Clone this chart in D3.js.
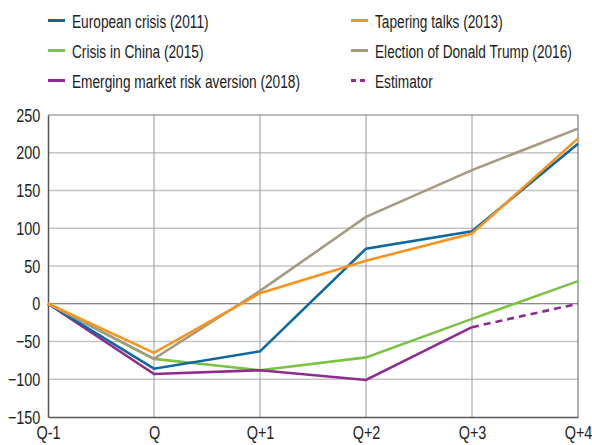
<!DOCTYPE html>
<html><head><meta charset="utf-8">
<script src="https://cdn.jsdelivr.net/npm/d3@7"></script>
<style>
body{margin:0;background:#fff;}
text{font-family:"Liberation Sans",Arial,sans-serif;fill:#222;}
</style></head>
<body><svg id="c" width="592" height="445"></svg>
<script>
const categories = ["Q-1","Q","Q+1","Q+2","Q+3","Q+4"];
const yTicks = [-150,-100,-50,0,50,100,150,200,250];
const europeanCrisis = [0,-86,-63,73,96,212];
const taperingTalks = [0,-65,14,57,93,219];
const chinaCrisis = [0,-73,-88,-71,-20,30];
const trumpElection = [0,-73,17,115,177,232];
const emRiskAversion = [0,-93,-88,-101,-31,null];
const estimator = [null,null,null,null,-31,0];

const series = [
  {name:"European crisis (2011)", values:europeanCrisis, color:"#0b68a0", dash:null, col:0, row:0},
  {name:"Tapering talks (2013)", values:taperingTalks, color:"#f7941d", dash:null, col:1, row:0},
  {name:"Crisis in China (2015)", values:chinaCrisis, color:"#7dc242", dash:null, col:0, row:1},
  {name:"Election of Donald Trump (2016)", values:trumpElection, color:"#a69a80", dash:null, col:1, row:1},
  {name:"Emerging market risk aversion (2018)", values:emRiskAversion, color:"#8e2b8e", dash:null, col:0, row:2},
  {name:"Estimator", values:estimator, color:"#8e2b8e", dash:"7,5", col:1, row:2}
];
const drawOrder = [2,4,5,0,3,1];
const K = 0.76; // horizontal condensing of the axis font
const KL = 0.72; // horizontal condensing of the legend font

const svg = d3.select("#c");
const L=48, R=578, T=115, B=417;
const x = d3.scalePoint().domain(categories).range([L,R]);
const y = d3.scaleLinear().domain([-150,250]).range([B,T]);

// horizontal grid
svg.append("g").selectAll("line").data(yTicks.filter(v=>v!==0 && v!==-150 && v!==250)).join("line")
  .attr("x1",L).attr("x2",R).attr("y1",d=>y(d)).attr("y2",d=>y(d))
  .attr("stroke","#c4c4c4").attr("stroke-width",1.5);
// vertical grid
svg.append("g").selectAll("line").data(categories.slice(1,-1)).join("line")
  .attr("x1",d=>x(d)).attr("x2",d=>x(d)).attr("y1",T).attr("y2",B)
  .attr("stroke","#9a9a9a").attr("stroke-width",1);
// frame
svg.append("line").attr("x1",L).attr("x2",R).attr("y1",T).attr("y2",T).attr("stroke","#7a7a7a").attr("stroke-width",1.2);
svg.append("line").attr("x1",R).attr("x2",R).attr("y1",T).attr("y2",B).attr("stroke","#7a7a7a").attr("stroke-width",1.2);
svg.append("line").attr("x1",L).attr("x2",R).attr("y1",y(0)).attr("y2",y(0)).attr("stroke","#666").attr("stroke-width",1.2);

// y axis
const yAxis = svg.append("g").attr("transform",`translate(${L},0)`)
  .call(d3.axisLeft(y).tickValues(yTicks).tickSize(0).tickPadding(10));
yAxis.select(".domain").attr("stroke","#555").attr("stroke-width",1.5);
yAxis.selectAll("text").style("font-size","19px").attr("fill","#222").attr("transform",`scale(${K},1)`);
// x axis
const xAxis = svg.append("g").attr("transform",`translate(0,${B})`)
  .call(d3.axisBottom(x).tickSize(0).tickPadding(9));
xAxis.select(".domain").attr("stroke","#555").attr("stroke-width",1.5);
xAxis.selectAll("text").style("font-size","19px").attr("fill","#222").attr("transform",`scale(${K},1)`);

// lines
const line = d3.line().defined(d=>d.v!==null).x(d=>x(d.c)).y(d=>y(d.v));
drawOrder.forEach(i=>{
  const s = series[i];
  svg.append("path").datum(s.values.map((v,j)=>({c:categories[j],v})))
    .attr("d",line).attr("fill","none").attr("stroke",s.color)
    .attr("stroke-width",2.6).attr("stroke-dasharray",s.dash);
});

// legend
const colX=[48,351], rowY=[20.5,50.5,80.5];
series.forEach(s=>{
  const g = svg.append("g").attr("transform",`translate(${colX[s.col]},${rowY[s.row]})`);
  g.append("line").attr("x1",0).attr("x2",17).attr("y1",0).attr("y2",0)
    .attr("stroke",s.color).attr("stroke-width",3).attr("stroke-dasharray",s.dash?"5,4":null);
  g.append("text").attr("transform",`translate(24,7) scale(${KL},1)`).style("font-size","19px").text(s.name);
});
</script></body></html>
